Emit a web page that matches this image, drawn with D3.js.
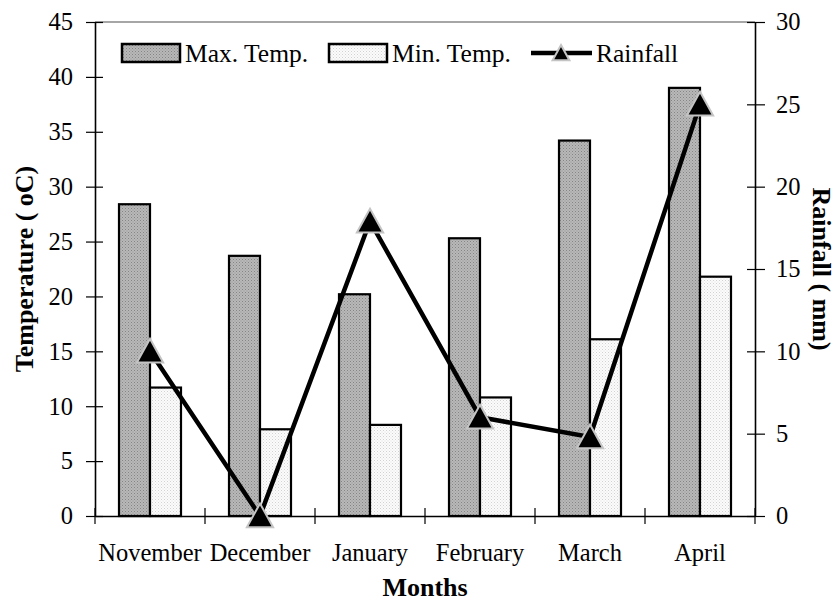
<!DOCTYPE html>
<html>
<head>
<meta charset="utf-8">
<script src="https://cdn.jsdelivr.net/npm/d3@7"></script>
<style>
  body { margin: 0; background: #fff; }
  text { font-family: "Liberation Serif", "Times New Roman", serif; fill: #000; }
</style>
</head>
<body>
<div id="chart"></div>
<script>
// data
var months = ['November', 'December', 'January', 'February', 'March', 'April'];
var maxTemp = [28.4, 23.7, 20.2, 25.3, 34.2, 39.0];
var minTemp = [11.7, 7.9, 8.3, 10.8, 16.1, 21.8];
var rainfall = [10.0, 0.0, 17.9, 6.0, 4.8, 25.0];
var tempTicks = [0, 5, 10, 15, 20, 25, 30, 35, 40, 45];
var rainTicks = [0, 5, 10, 15, 20, 25, 30];

var W = 837, H = 603;
var margin = { top: 22, right: 82, bottom: 87, left: 95 };
var width = W - margin.left - margin.right;
var height = H - margin.top - margin.bottom;

var svg = d3.select('#chart').append('svg').attr('width', W).attr('height', H);

// dotted fills
var defs = svg.append('defs');
var pMax = defs.append('pattern').attr('id', 'pmax').attr('patternUnits', 'userSpaceOnUse')
    .attr('width', 3).attr('height', 3);
pMax.append('rect').attr('width', 3).attr('height', 3).attr('fill', '#b8b8b8');
pMax.append('rect').attr('width', 1).attr('height', 1).attr('fill', '#858585');
pMax.append('rect').attr('x', 1.5).attr('y', 1.5).attr('width', 1).attr('height', 1).attr('fill', '#959595');
var pMin = defs.append('pattern').attr('id', 'pmin').attr('patternUnits', 'userSpaceOnUse')
    .attr('width', 3).attr('height', 3);
pMin.append('rect').attr('width', 3).attr('height', 3).attr('fill', '#fbfbfb');
pMin.append('rect').attr('width', 1).attr('height', 1).attr('fill', '#d2d2d2');
pMin.append('rect').attr('x', 1.5).attr('y', 1.5).attr('width', 1).attr('height', 1).attr('fill', '#e2e2e2');

var g = svg.append('g').attr('transform', 'translate(' + margin.left + ',' + margin.top + ')');

var x = d3.scaleBand().domain(months).range([0, width]);
var y = d3.scaleLinear().domain([0, 45]).range([height, 0]);
var y2 = d3.scaleLinear().domain([0, 30]).range([height, 0]);
var barW = 31;

// top border
g.append('line').attr('x1', 0).attr('x2', width).attr('y1', 0).attr('y2', 0)
    .attr('stroke', '#888').attr('stroke-width', 1.5);

// bars
g.selectAll('.barmax').data(months).enter().append('rect')
    .attr('x', function(d) { return x(d) + x.bandwidth() / 2 - barW; })
    .attr('y', function(d, i) { return y(maxTemp[i]); })
    .attr('width', barW)
    .attr('height', function(d, i) { return height - y(maxTemp[i]); })
    .attr('fill', 'url(#pmax)').attr('stroke', '#000').attr('stroke-width', 2.2);
g.selectAll('.barmin').data(months).enter().append('rect')
    .attr('x', function(d) { return x(d) + x.bandwidth() / 2; })
    .attr('y', function(d, i) { return y(minTemp[i]); })
    .attr('width', barW)
    .attr('height', function(d, i) { return height - y(minTemp[i]); })
    .attr('fill', 'url(#pmin)').attr('stroke', '#000').attr('stroke-width', 2.2);

// axes
var left = g.append('g').call(d3.axisLeft(y).tickValues(tempTicks).tickSize(0).tickPadding(22));
var right = g.append('g').attr('transform', 'translate(' + width + ',0)')
    .call(d3.axisRight(y2).tickValues(rainTicks).tickSize(0).tickPadding(21));
var bottom = g.append('g').attr('transform', 'translate(0,' + height + ')')
    .call(d3.axisBottom(x).tickSize(0).tickPadding(28));
[left, right, bottom].forEach(function(a) {
    a.select('.domain').attr('stroke', '#000').attr('stroke-width', 1.6);
    a.selectAll('text').style('font-size', '24.5px').style('font-family', '"Liberation Serif", serif');
});
left.selectAll('.tick').append('line').attr('x1', -9).attr('x2', 8).attr('stroke', '#000').attr('stroke-width', 1.2);
right.selectAll('.tick').append('line').attr('x1', -8).attr('x2', 10).attr('stroke', '#000').attr('stroke-width', 1.2);
// category separator ticks on the x axis
g.append('g').selectAll('line').data(months.concat(['end'])).enter().append('line')
    .attr('x1', function(d, i) { return i * x.step(); })
    .attr('x2', function(d, i) { return i * x.step(); })
    .attr('y1', height - 8).attr('y2', height + 8)
    .attr('stroke', '#000').attr('stroke-width', 1.2);

// rainfall line
var line = d3.line()
    .x(function(d, i) { return x(months[i]) + x.bandwidth() / 2; })
    .y(function(d) { return y2(d); });
g.append('path').datum(rainfall).attr('d', line)
    .attr('fill', 'none').attr('stroke', '#000').attr('stroke-width', 4.5).attr('stroke-linejoin', 'miter');

var tri = function(s) { return 'M0,' + (-s) + 'L' + (s * 1.05) + ',' + (s * 0.9) + 'L' + (-s * 1.05) + ',' + (s * 0.9) + 'Z'; };
g.selectAll('.mk').data(rainfall).enter().append('path')
    .attr('transform', function(d, i) {
        return 'translate(' + (x(months[i]) + x.bandwidth() / 2) + ',' + y2(d) + ')';
    })
    .attr('d', tri(12.5))
    .attr('fill', '#000').attr('stroke', '#c4c4c4').attr('stroke-width', 2);

// legend
var leg = svg.append('g');
leg.append('rect').attr('x', 122).attr('y', 44).attr('width', 58).attr('height', 18)
    .attr('fill', 'url(#pmax)').attr('stroke', '#000').attr('stroke-width', 2.5);
leg.append('text').attr('x', 185).attr('y', 62).style('font-size', '25.5px').text('Max. Temp.');
leg.append('rect').attr('x', 329).attr('y', 44).attr('width', 58).attr('height', 18)
    .attr('fill', 'url(#pmin)').attr('stroke', '#000').attr('stroke-width', 2.5);
leg.append('text').attr('x', 392).attr('y', 62).style('font-size', '25.5px').text('Min. Temp.');
leg.append('line').attr('x1', 531).attr('x2', 592).attr('y1', 53).attr('y2', 53)
    .attr('stroke', '#000').attr('stroke-width', 4.5);
leg.append('path').attr('transform', 'translate(561,53)').attr('d', tri(8))
    .attr('fill', '#000').attr('stroke', '#c4c4c4').attr('stroke-width', 2);
leg.append('text').attr('x', 596).attr('y', 62).style('font-size', '25.5px').text('Rainfall');

// axis titles
svg.append('text').attr('x', margin.left + width / 2).attr('y', 596)
    .attr('text-anchor', 'middle').style('font-size', '26px').style('font-weight', 'bold').text('Months');
svg.append('text').attr('transform', 'translate(33,' + (margin.top + height / 2) + ') rotate(-90)')
    .attr('text-anchor', 'middle').style('font-size', '26px').style('font-weight', 'bold').text('Temperature ( oC)');
svg.append('text').attr('transform', 'translate(813,' + (margin.top + height / 2) + ') rotate(90)')
    .attr('text-anchor', 'middle').style('font-size', '26px').style('font-weight', 'bold').text('Rainfall ( mm)');
</script>
</body>
</html>
